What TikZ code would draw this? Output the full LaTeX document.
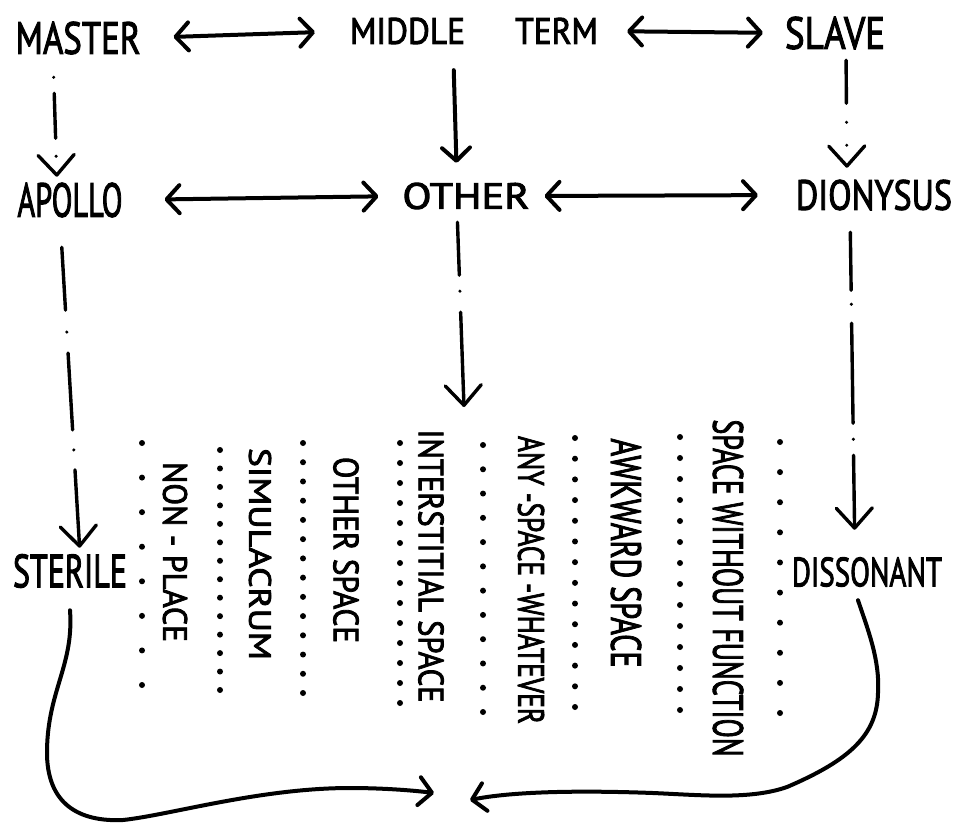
\documentclass[tikz,border=0pt]{standalone}
\usepackage{fontspec}
\setmainfont{PT Sans}[FakeBold=2.5]
\usepackage{graphicx}
\usetikzlibrary{arrows.meta}
\tikzset{
  lbl/.style={inner sep=0pt, outer sep=0pt},
  vlbl/.style={lbl, rotate=-90},
  ink/.style={line width=4pt, line cap=round, line join=round},
  thinink/.style={line width=3.4pt, line cap=round, line join=round},
  barb/.tip={Straight Barb[length=13pt,width=28pt,round]},
  vee/.tip={Straight Barb[length=20pt,width=36pt,round]},
}
\newcommand\fitt[3]{\resizebox{#1}{#2}{#3}}
\begin{document}
\begin{tikzpicture}[x=1pt,y=-1pt]
\useasboundingbox (0,0) rectangle (953,823);
% top row
\node[lbl] (master)   at (78,38)  {\fitt{125pt}{32pt}{MASTER}};
\node[lbl] (midterm)  at (474,31) {\fitt{248pt}{26pt}{MIDDLE\hspace{1.5em}TERM}};
\node[lbl] (slave)    at (835,33) {\fitt{100pt}{32pt}{SLAVE}};
% second row
\node[lbl] (apollo)   at (70,200) {\fitt{105pt}{34pt}{APOLLO}};
\node[lbl] (other)    at (466,196){\fitt{127pt}{26pt}{OTHER}};
\node[lbl] (dionysus) at (874,195){\fitt{156pt}{30pt}{DIONYSUS}};
% third row
\node[lbl] (sterile)  at (70,571) {\fitt{114pt}{33pt}{STERILE}};
\node[lbl] (dissonant) at (867,572){\fitt{150pt}{29pt}{DISSONANT}};
% vertical labels
\node[vlbl] (nonplace)     at (175,552) {\fitt{180pt}{24pt}{NON - PLACE}};
\node[vlbl] (simulacrum)   at (260,554) {\fitt{212pt}{22pt}{SIMULACRUM}};
\node[vlbl] (otherspace)   at (346,550) {\fitt{186pt}{25pt}{OTHER SPACE}};
\node[vlbl] (interstitial) at (431,566) {\fitt{273pt}{25pt}{INTERSTITIAL SPACE}};
\node[vlbl] (anyspace)     at (531,580) {\fitt{288pt}{26pt}{ANY -SPACE -WHATEVER}};
\node[vlbl] (awkward)      at (626,553) {\fitt{229pt}{30pt}{AWKWARD SPACE}};
\node[vlbl] (nofunction)   at (728,588) {\fitt{337pt}{30pt}{SPACE WITHOUT FUNCTION}};
\coordinate (spaces) at (464,407);
\coordinate (meetL) at (434,793);
\coordinate (meetR) at (470,800);
% horizontal double arrows
\draw[ink, barb-barb, shorten <=33pt, shorten >=35pt] (master.east) -- (midterm.west);
\draw[ink, barb-barb, shorten <=29pt, shorten >=22pt] (midterm.east) -- (slave.west);
\draw[ink, barb-barb, shorten <=42pt, shorten >=24pt] (apollo.east) -- (other.west);
\draw[ink, barb-barb, shorten <=15pt, shorten >=38pt] (other.east) -- (dionysus.west);
% vertical connectors
\draw[ink, -barb, shorten <=26pt, shorten >=20pt] ([xshift=-21pt]midterm.south) -- ([xshift=-9pt]other.north);
\draw[thinink, -vee, dash pattern=on 0pt off 16pt on 45pt off 18pt on 0pt off 60pt,
      shorten <=23pt, shorten >=6pt] ([xshift=-25pt]master.south) -- ([xshift=-13pt]apollo.north);
\draw[thinink, -vee, dash pattern=on 43pt off 19pt on 0pt off 23pt on 0pt off 60pt,
      shorten <=11pt, shorten >=12pt] ([xshift=11pt]slave.south) -- ([xshift=-27pt]dionysus.north);
\draw[thinink, -vee, dash pattern=on 63pt off 22pt on 0pt off 21pt on 77pt off 20pt on 0pt off 20pt on 200pt,
      shorten <=30pt, shorten >=6.5pt] ([xshift=-10pt]apollo.south) -- ([xshift=10pt]sterile.north);
\draw[thinink, -vee, dash pattern=on 53pt off 16pt on 0pt off 21pt on 200pt,
      shorten <=13pt] ([xshift=-9pt]other.south) -- (spaces);
\draw[thinink, -vee, dash pattern=on 58pt off 14pt on 0pt off 19pt on 100pt off 16pt on 0pt off 16pt on 200pt,
      shorten <=22pt, shorten >=27.5pt] ([xshift=-24pt]dionysus.south) -- ([xshift=-12pt]dissonant.north);
% bottom curves
\draw[ink, -barb] ([yshift=-22.5pt]sterile.south)
   .. controls (74,665) and (48,690) .. (47,750)
   .. controls (46,805) and (80,822) .. (123,820)
   .. controls (170,815) and (260,788) .. (350,788)
   .. controls (380,788) and (410,790) .. (meetL);
\draw[ink, -barb] ([xshift=-9pt,yshift=-13.5pt]dissonant.south)
   .. controls (868,630) and (880,660) .. (878,693)
   .. controls (877,735) and (850,760) .. (787,787)
   .. controls (750,800) and (700,795) .. (653,793)
   .. controls (600,791) and (520,790) .. (meetR);
% dotted columns
\foreach \cx/\ya/\yb/\n in {142/443/685/8, 220/450/690/14, 303/443/693/14, 400/443/703/14,
                            483/445/712/12, 575/438/707/14, 680/437/710/14, 780/442/713/10}{
  \foreach \i in {1,...,\n}{
    \fill (\cx,{\ya+(\i-1)*(\yb-\ya)/(\n-1)}) circle (3pt);
  }
}
\end{tikzpicture}
\end{document}
